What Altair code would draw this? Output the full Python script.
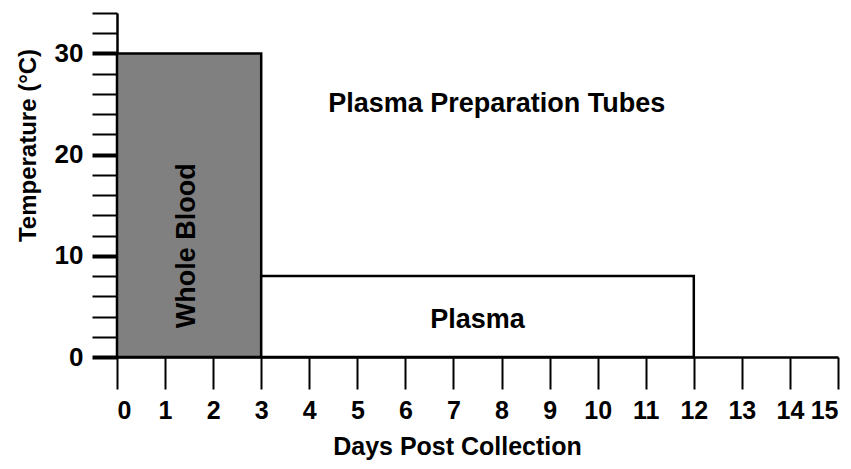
import altair as alt
import pandas as pd

# Boxes: (start day, end day, min temp, max temp)
box_names = ["Whole Blood", "Plasma"]
box_x = [0, 3]
box_x2 = [3, 12]
box_y = [0, 0]
box_y2 = [30, 8]
box_fill = ["#808080", "#ffffff"]

# Annotations
note_text = ["Whole Blood", "Plasma", "Plasma Preparation Tubes"]
note_x = [1.45, 7.5, 7.9]
note_y = [11.0, 3.7, 25.0]
note_angle = [270, 0, 0]

x_ticks = list(range(0, 16))
y_ticks = list(range(0, 35, 2))

FONT = "Liberation Sans"

boxes = pd.DataFrame({"name": box_names, "x": box_x, "x2": box_x2,
                      "y": box_y, "y2": box_y2, "fill": box_fill})
notes = pd.DataFrame({"text": note_text, "x": note_x, "y": note_y,
                      "angle": note_angle})

xscale = alt.Scale(domain=[0, 15], nice=False, zero=False)
yscale = alt.Scale(domain=[0, 34], nice=False, zero=False)

xaxis = alt.Axis(values=x_ticks, grid=False, domainColor="black", domainWidth=2.5,
                 tickColor="black", tickWidth=2, tickSize=32, labelPadding=9,
                 labelOverlap=False, labelBound=False, labelFlush=True,
                 labelFont=FONT, labelFontWeight="bold", labelFontSize=25,
                 labelColor="black", labelAngle=0, labelBaseline="top",
                 title="Days Post Collection", titleFont=FONT, titleFontWeight="bold",
                 titleFontSize=25, titleColor="black", titleX=340, titleY=89,
                 titleBaseline="middle", titleAlign="center")

yaxis = alt.Axis(values=y_ticks, grid=False, domainColor="black", domainWidth=2.5,
                 tickColor="black",
                 tickWidth={"condition": {"test": "datum.value % 10 === 0", "value": 4}, "value": 2},
                 tickSize=25, labelPadding=9,
                 labelOverlap=False, labelBound=False, labelFlush=False,
                 labelExpr="datum.value % 10 === 0 ? datum.label : ''",
                 labelFont=FONT, labelFontWeight="bold", labelFontSize=26,
                 labelColor="black",
                 title="Temperature (°C)", titleFont=FONT, titleFontWeight="bold",
                 titleFontSize=24, titleColor="black", titleX=-89, titleY=132,
                 titleBaseline="middle", titleAlign="center", titleAngle=270)

rects = alt.Chart(boxes).mark_rect(stroke="black", strokeWidth=2.5).encode(
    x=alt.X("x:Q", scale=xscale, axis=xaxis),
    x2="x2:Q",
    y=alt.Y("y:Q", scale=yscale, axis=yaxis),
    y2="y2:Q",
    fill=alt.Fill("fill:N", scale=None),
)

texts = alt.Chart(notes).mark_text(font=FONT, fontWeight="bold", fontSize=27,
                                   color="black", align="center", baseline="middle").encode(
    x=alt.X("x:Q", scale=xscale, axis=xaxis),
    y=alt.Y("y:Q", scale=yscale, axis=yaxis),
    text="text:N",
    angle=alt.Angle("angle:Q", scale=None),
)

chart = alt.layer(rects, texts).properties(
    width=721, height=344,
    background="white",
    autosize=alt.AutoSizeParams(type="none"),
    padding={"left": 109, "top": 5, "right": 5, "bottom": 104},
).configure_view(strokeWidth=0, stroke="transparent").configure_axis(
    labelOverlap=False
)

chart.save("out.html", embed_options={"renderer": "svg", "actions": False})
